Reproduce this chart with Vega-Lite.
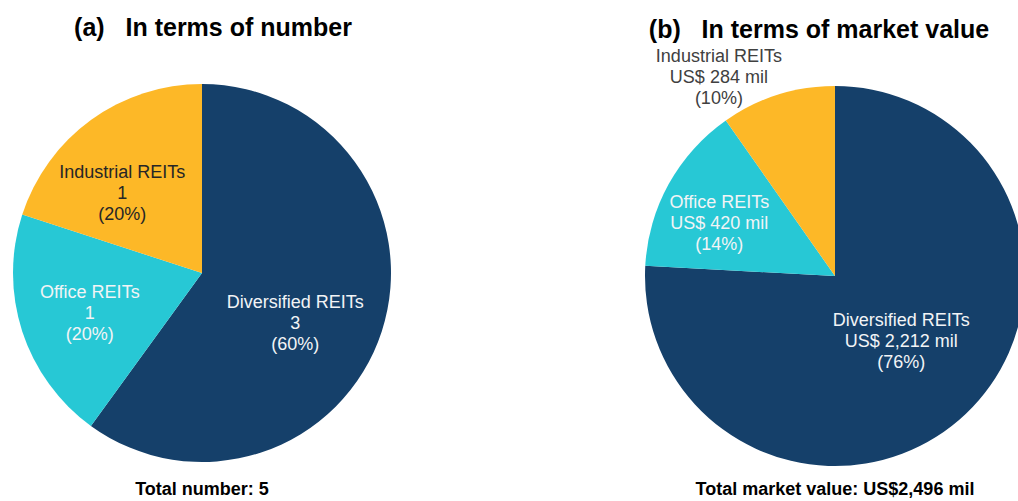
{
  "$schema": "https://vega.github.io/schema/vega-lite/v6.json",
  "background": "white",
  "padding": {"left": 0, "right": 0, "top": 16, "bottom": 0},
  "config": {
    "view": {"stroke": null},
    "font": "Liberation Sans",
    "text": {"font": "Liberation Sans", "fontSize": 18, "lineHeight": 21, "lineBreak": "\n", "align": "center", "baseline": "middle"}
  },
  "datasets": {
    "num": [
      {"type": "Diversified REITs", "rank": 1, "value": 3, "label": "Diversified REITs\n3\n(60%)"},
      {"type": "Office REITs", "rank": 2, "value": 1, "label": "Office REITs\n1\n(20%)"},
      {"type": "Industrial REITs", "rank": 3, "value": 1, "label": "Industrial REITs\n1\n(20%)"}
    ],
    "mv": [
      {"type": "Diversified REITs", "rank": 1, "value": 2212, "label": "Diversified REITs\nUS$ 2,212 mil\n(76%)"},
      {"type": "Office REITs", "rank": 2, "value": 420, "label": "Office REITs\nUS$ 420 mil\n(14%)"},
      {"type": "Industrial REITs", "rank": 3, "value": 284, "label": "Industrial REITs\nUS$ 284 mil\n(10%)"}
    ]
  },
  "spacing": 241,
  "hconcat": [
    {
      "title": {"text": "(a)\u00a0\u00a0\u00a0In terms of number", "fontSize": 25, "fontWeight": "bold", "color": "black", "offset": 43, "dx": 11, "anchor": "middle"},
      "vconcat": [
        {
          "width": 404,
          "height": 374,
          "data": {"name": "num"},
          "title": {"text": "Total number: 5", "orient": "bottom", "fontSize": 18, "fontWeight": "bold", "color": "black", "offset": 19, "anchor": "middle"},
          "encoding": {
            "theta": {"field": "value", "type": "quantitative", "stack": true},
            "order": {"field": "rank", "type": "quantitative"}
          },
          "layer": [
            {
              "mark": {"type": "arc", "outerRadius": 189, "stroke": null},
              "encoding": {
                "color": {"field": "type", "type": "nominal", "legend": null,
                  "scale": {"domain": ["Diversified REITs", "Office REITs", "Industrial REITs"], "range": ["#15406A", "#27C8D5", "#FDB827"]}}
              }
            },
            {
              "mark": {"type": "text", "radius": 98, "dy": 0, "color": "#F2F4F6"},
              "encoding": {"text": {"condition": {"test": "datum.type === 'Diversified REITs'", "field": "label"}, "value": ""}}
            },
            {
              "mark": {"type": "text", "radius": 118, "dy": -16, "color": "#F2F4F6"},
              "encoding": {"text": {"condition": {"test": "datum.type === 'Office REITs'", "field": "label"}, "value": ""}}
            },
            {
              "mark": {"type": "text", "radius": 110, "dx": -15, "dy": -11, "color": "#262626"},
              "encoding": {"text": {"condition": {"test": "datum.type === 'Industrial REITs'", "field": "label"}, "value": ""}}
            }
          ]
        }
      ]
    },
    {
      "title": {"text": "(b)\u00a0\u00a0\u00a0In terms of market value", "fontSize": 25, "fontWeight": "bold", "color": "black", "offset": 5, "dx": -16, "anchor": "middle"},
      "vconcat": [
        {
          "width": 380,
          "height": 380,
          "data": {"name": "mv"},
          "title": {"text": "Total market value: US$2,496 mil", "orient": "bottom", "fontSize": 18, "fontWeight": "bold", "color": "black", "offset": 15, "anchor": "middle"},
          "encoding": {
            "theta": {"field": "value", "type": "quantitative", "stack": true},
            "order": {"field": "rank", "type": "quantitative"}
          },
          "layer": [
            {
              "mark": {"type": "arc", "outerRadius": 190, "stroke": null},
              "encoding": {
                "color": {"field": "type", "type": "nominal", "legend": null,
                  "scale": {"domain": ["Diversified REITs", "Office REITs", "Industrial REITs"], "range": ["#15406A", "#27C8D5", "#FDB827"]}}
              }
            },
            {
              "mark": {"type": "text", "radius": 92, "dx": 3, "dy": -22, "color": "#F2F4F6"},
              "encoding": {"text": {"condition": {"test": "datum.type === 'Diversified REITs'", "field": "label"}, "value": ""}}
            },
            {
              "mark": {"type": "text", "radius": 130, "dx": -2, "dy": -10, "color": "#F2F4F6"},
              "encoding": {"text": {"condition": {"test": "datum.type === 'Office REITs'", "field": "label"}, "value": ""}}
            },
            {
              "mark": {"type": "text", "radius": 100, "dx": -86, "dy": -124, "color": "#404040"},
              "encoding": {"text": {"condition": {"test": "datum.type === 'Industrial REITs'", "field": "label"}, "value": ""}}
            }
          ]
        }
      ]
    }
  ]
}
